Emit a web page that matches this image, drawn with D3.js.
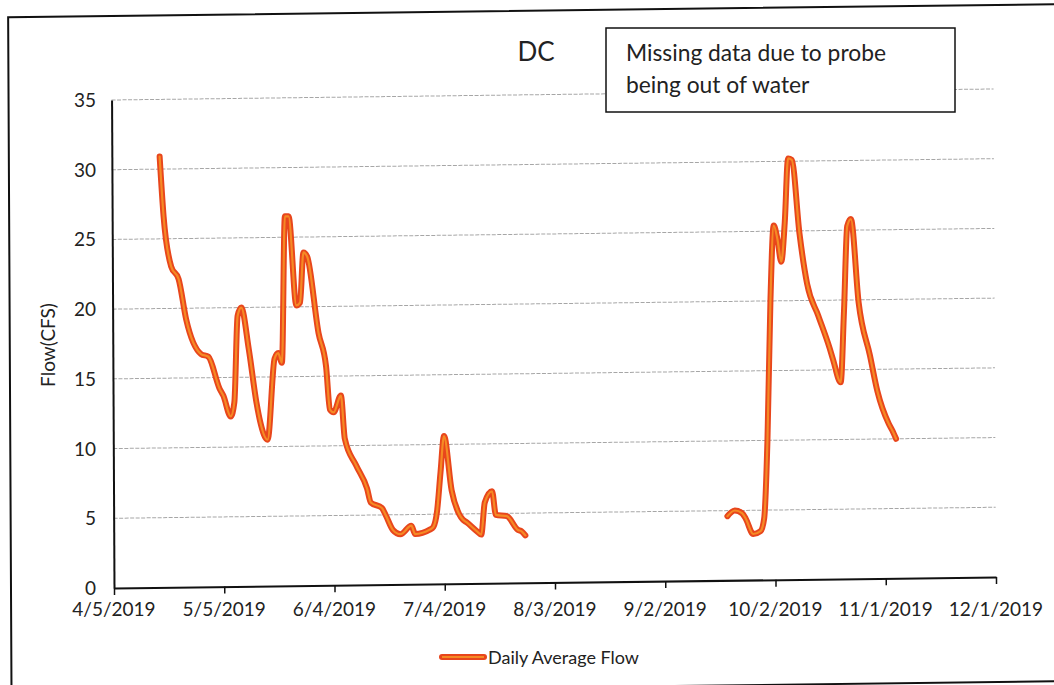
<!DOCTYPE html>
<html>
<head>
<meta charset="utf-8">
<script src="https://cdn.jsdelivr.net/npm/d3@7"></script>
<style>
  body { margin: 0; background: #fff; }
  svg { display: block; font-family: 'Lato', sans-serif; }
</style>
</head>
<body>
<svg width="1054" height="685"></svg>
<script>
const chartTitle = 'DC';
const noteLines = ['Missing data due to probe', 'being out of water'];
const yTitle = 'Flow(CFS)';
const seriesName = 'Daily Average Flow';

const xTickLabels = ['4/5/2019', '5/5/2019', '6/4/2019', '7/4/2019', '8/3/2019',
  '9/2/2019', '10/2/2019', '11/1/2019', '12/1/2019'];
const yTickValues = [0, 5, 10, 15, 20, 25, 30, 35];

// spring run, before the probe came out of the water
const springDates = ['4/18', '4/19', '4/21', '4/23', '4/25', '4/29', '5/1', '5/4', '5/5', '5/7',
  '5/8', '5/9', '5/10', '5/12', '5/14', '5/15', '5/17', '5/19', '5/20', '5/21',
  '5/22', '5/23', '5/25', '5/26', '5/27', '5/28', '5/31', '6/2', '6/3', '6/4',
  '6/6', '6/7', '6/10', '6/13', '6/14', '6/17', '6/18', '6/20', '6/22', '6/25',
  '6/26', '6/30', '7/1', '7/2', '7/3', '7/4', '7/6', '7/8', '7/9', '7/10',
  '7/13', '7/14', '7/15', '7/17', '7/18', '7/21', '7/24', '7/25', '7/26'];
const springFlow = [30.9, 26.6, 23.0, 22.1, 19.2, 16.7, 16.5, 14.2, 13.7, 12.2,
  13.2, 19.4, 20.0, 17.0, 13.2, 11.8, 10.5, 16.3, 16.7, 16.0,
  26.5, 26.5, 20.1, 20.3, 23.9, 23.6, 18.1, 15.7, 12.6, 12.4,
  13.6, 10.5, 8.6, 6.9, 5.9, 5.5, 5.0, 3.9, 3.6, 4.2,
  3.6, 3.9, 4.1, 5.2, 8.0, 10.6, 6.7, 5.0, 4.6, 4.4,
  3.7, 3.5, 5.8, 6.6, 4.9, 4.8, 3.8, 3.7, 3.4];

// fall run
const fallDates = ['9/19', '9/21', '9/23', '9/24', '9/26', '9/28', '9/29', '9/30', '10/1', '10/2',
  '10/3', '10/4', '10/5', '10/6', '10/7', '10/9', '10/11', '10/14', '10/17', '10/18',
  '10/20', '10/21', '10/22', '10/23', '10/25', '10/28', '10/30', '11/2', '11/3', '11/4'];
const fallFlow = [4.6, 5.0, 4.8, 4.4, 3.3, 3.5, 4.4, 10.0, 20.0, 25.4,
  24.4, 22.8, 25.6, 30.2, 30.1, 24.8, 21.2, 18.9, 16.6, 15.7,
  14.1, 19.2, 25.3, 25.8, 19.8, 16.0, 13.4, 11.1, 10.6, 10.0];

// small stand-in for d3-selection-multi
d3.selection.prototype.attrs = function(map) {
  Object.entries(map).forEach(([k, v]) => this.attr(k, v));
  return this;
};

const parse = d3.timeParse('%m/%d/%Y');
const toPoints = (dates, vals) => dates.map((d, i) => ({date: parse(d + '/2019'), v: vals[i]}));
const segments = [toPoints(springDates, springFlow), toPoints(fallDates, fallFlow)];
const xTicks = xTickLabels.map(parse);

const svg = d3.select('svg');
const x = d3.scaleTime().domain([xTicks[0], xTicks[xTicks.length - 1]]).range([114, 996]);
const y = d3.scaleLinear().domain([0, 35]).range([588, 100]);

// the scan is a little crooked: the plot lines lean up to the right
const plot = svg.append('g')
  .attr('transform', 'translate(114,588) matrix(1,-0.0125,0.005,1,0,0) translate(-114,-588)');

plot.append('rect').attrs({
  x: 11, y: 16, width: 1060, height: 677,
  fill: 'none', stroke: '#111', 'stroke-width': 2,
});

plot.append('g').selectAll('line')
  .data(yTickValues.filter(v => v > 0))
  .join('line')
  .attrs({
    x1: x.range()[0], x2: x.range()[1],
    y1: d => y(d), y2: d => y(d),
    stroke: '#a6a6a6', 'stroke-width': 1, 'stroke-dasharray': '4 1.5',
  });

const xAxis = plot.append('g')
  .attr('transform', 'translate(0,' + y(0) + ')')
  .call(d3.axisBottom(x).tickValues(xTicks).tickFormat('').tickSize(7).tickSizeOuter(0));
xAxis.select('.domain').attr('stroke', '#111').attr('stroke-width', 2);
xAxis.selectAll('.tick line').attr('stroke', '#111').attr('stroke-width', 1.5);

const yAxis = plot.append('g')
  .attr('transform', 'translate(' + x.range()[0] + ',0)')
  .call(d3.axisLeft(y).tickValues([]).tickSizeOuter(0));
yAxis.select('.domain').attr('stroke', '#111').attr('stroke-width', 2);

const line = d3.line()
  .x(d => x(d.date))
  .y(d => y(d.v))
  .curve(d3.curveMonotoneX);

plot.append('g').selectAll('path')
  .data(segments)
  .join('path')
  .attrs({
    d: line, fill: 'none', stroke: '#e8461c', 'stroke-width': 6,
    'stroke-linejoin': 'round', 'stroke-linecap': 'round',
  });
plot.append('g').selectAll('path')
  .data(segments)
  .join('path')
  .attrs({
    d: line, fill: 'none', stroke: '#f58a24', 'stroke-width': 2.2,
    'stroke-linejoin': 'round', 'stroke-linecap': 'round',
  });

// text sits straight
svg.append('g').selectAll('text')
  .data(yTickValues)
  .join('text')
  .attrs({
    x: 96, y: d => y(d) + 7, 'text-anchor': 'end',
    'font-size': '19px', fill: '#222',
  })
  .text(d => d);

svg.append('g').selectAll('text')
  .data(xTicks)
  .join('text')
  .attrs({
    x: d => x(d), y: 616, 'text-anchor': 'middle',
    'font-size': '19px', fill: '#222',
  })
  .text((d, i) => xTickLabels[i]);

svg.append('text')
  .attrs({
    transform: 'translate(55,345) rotate(-90)', 'text-anchor': 'middle',
    'font-size': '19px', fill: '#222',
  })
  .text(yTitle);

svg.append('text')
  .attrs({x: 536, y: 61, 'text-anchor': 'middle', 'font-size': '26px', fill: '#222'})
  .text(chartTitle);

const note = svg.append('g');
note.append('rect').attrs({
  x: 606, y: 28, width: 349, height: 84,
  fill: '#fff', stroke: '#111', 'stroke-width': 1.5,
});
note.selectAll('text')
  .data(noteLines)
  .join('text')
  .attrs({x: 626, y: (d, i) => 61 + i * 32, 'font-size': '22.8px', fill: '#222'})
  .text(d => d);

const legend = svg.append('g');
legend.append('line').attrs({
  x1: 442, x2: 484, y1: 657, y2: 657,
  stroke: '#e8461c', 'stroke-width': 6, 'stroke-linecap': 'round',
});
legend.append('line').attrs({
  x1: 442, x2: 484, y1: 657, y2: 657,
  stroke: '#f58a24', 'stroke-width': 2.2,
});
legend.append('text')
  .attrs({x: 488, y: 664, 'font-size': '18px', fill: '#222'})
  .text(seriesName);
</script>
</body>
</html>
